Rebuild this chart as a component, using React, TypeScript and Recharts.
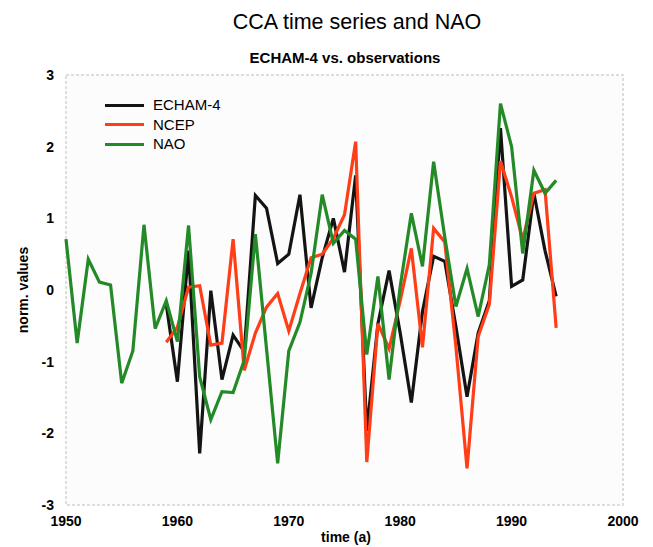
import React from 'react'
import { LineChart, Line, XAxis, YAxis, ReferenceArea } from 'recharts'

// years on the x axis (NAO covers all of them, the CCA series start in 1959)
const years = [
	1950, 1951, 1952, 1953, 1954, 1955, 1956, 1957, 1958, 1959,
	1960, 1961, 1962, 1963, 1964, 1965, 1966, 1967, 1968, 1969,
	1970, 1971, 1972, 1973, 1974, 1975, 1976, 1977, 1978, 1979,
	1980, 1981, 1982, 1983, 1984, 1985, 1986, 1987, 1988, 1989,
	1990, 1991, 1992, 1993, 1994,
]

const naoValues = [
	0.71, -0.74, 0.43, 0.11, 0.07, -1.3, -0.85, 0.91, -0.54, -0.15,
	-0.72, 0.9, -1.21, -1.81, -1.42, -1.43, -0.98, 0.78, -0.82, -2.42,
	-0.85, -0.45, 0.23, 1.33, 0.65, 0.83, 0.71, -0.9, 0.19, -1.25,
	0.05, 1.07, 0.33, 1.79, 0.74, -0.23, 0.3, -0.37, 0.35, 2.6,
	2.0, 0.51, 1.67, 1.35, 1.53,
]

const ccaStart = 1959

const echamValues = [
	-0.2, -1.28, 0.55, -2.28, -0.01, -1.25, -0.63, -0.86, 1.32, 1.14,
	0.37, 0.5, 1.33, -0.25, 0.45, 1.0, 0.25, 1.6, -1.97, -0.47,
	0.27, -0.6, -1.57, -0.3, 0.47, 0.4, -0.51, -1.49, -0.6, -0.15,
	2.26, 0.05, 0.14, 1.35, 0.55, -0.09,
]

const ncepValues = [
	-0.73, -0.52, 0.04, 0.06, -0.77, -0.74, 0.71, -1.12, -0.6, -0.24,
	-0.05, -0.57, -0.05, 0.45, 0.5, 0.72, 1.05, 2.07, -2.4, -0.47,
	-0.82, -0.15, 0.58, -0.8, 0.86, 0.67, -0.79, -2.49, -0.65, -0.2,
	1.8, 1.3, 0.7, 1.35, 1.4, -0.53,
]

const xTicks = [1950, 1960, 1970, 1980, 1990, 2000]
const yTicks = [-3, -2, -1, 0, 1, 2, 3]

const seriesNames = ['ECHAM-4', 'NCEP', 'NAO']
const seriesKeys = ['echam', 'ncep', 'nao']
const seriesColors = ['#141414', '#ff3d17', '#238a27']

const chartData = years.map((year, i) => {
	const j = year - ccaStart
	return {
		year,
		nao: naoValues[i],
		echam: j >= 0 ? echamValues[j] : undefined,
		ncep: j >= 0 ? ncepValues[j] : undefined,
	}
})

const FONT = '"Liberation Sans", Arial, Helvetica, sans-serif'

const XTick = ({ x, y, payload }) => (
	<text x={x} y={y} dy={11} textAnchor='middle' fontFamily={FONT} fontSize={14} fontWeight={700} fill='#000'>
		{payload.value}
	</text>
)

const YTick = ({ x, y, payload }) => (
	<text x={x - 2} y={y} dy={5} textAnchor='end' fontFamily={FONT} fontSize={14} fontWeight={700} fill='#000'>
		{String(payload.value).replace('\u2212', '-')}
	</text>
)

const txt = (left, top, size, weight, center = true) => ({
	position: 'absolute' as const,
	left,
	top,
	fontFamily: FONT,
	fontSize: size,
	fontWeight: weight,
	lineHeight: 1,
	whiteSpace: 'nowrap' as const,
	color: '#000',
	transform: center ? 'translateX(-50%)' : undefined,
})

export default function App() {
	return (
		<div style={{ position: 'absolute', left: 0, top: 0, width: 653, height: 547, background: '#fff' }}>
			<LineChart width={653} height={547} data={chartData} margin={{ top: 75, right: 30, bottom: 12, left: 0 }}>
				<ReferenceArea x1={1950} x2={2000} y1={-3} y2={3} fill='#fbfcfb' fillOpacity={1}
											 stroke='#d4d4cc' strokeDasharray='3 2' strokeWidth={1.5} />
				<XAxis dataKey='year' type='number' domain={[1950, 2000]} ticks={xTicks} height={30}
							 axisLine={false} tickLine={false} tickSize={0} tickMargin={10} tick={<XTick />} />
				<YAxis type='number' domain={[-3, 3]} ticks={yTicks} width={66}
							 axisLine={false} tickLine={false} tickSize={0} tickMargin={10} tick={<YTick />} />
				{
					seriesKeys.map((k, i) => (
						<Line key={k} type='linear' dataKey={k} stroke={seriesColors[i]} strokeWidth={3.2}
									dot={false} activeDot={false} isAnimationActive={false} />
					))
				}
			</LineChart>

			<div style={txt(357, 12, 21.5, 400)}>CCA time series and NAO</div>
			<div style={txt(345, 50, 15, 700)}>ECHAM-4 vs. observations</div>
			<div style={txt(346, 530, 14, 700)}>time (a)</div>
			<div style={{ ...txt(23, 290, 14, 700, false), transform: 'translate(-50%, -50%) rotate(-90deg)' }}>norm. values</div>

			{
				seriesNames.map((name, i) => (
					<div key={name} style={{ position: 'absolute', left: 105, top: 97 + i * 19.5, display: 'flex', alignItems: 'center' }}>
						<div style={{ width: 39, height: 3, background: seriesColors[i] }} />
						<span style={{ marginLeft: 9, fontFamily: FONT, fontSize: 15, lineHeight: '16px', color: '#000' }}>{name}</span>
					</div>
				))
			}
		</div>
	)
}
